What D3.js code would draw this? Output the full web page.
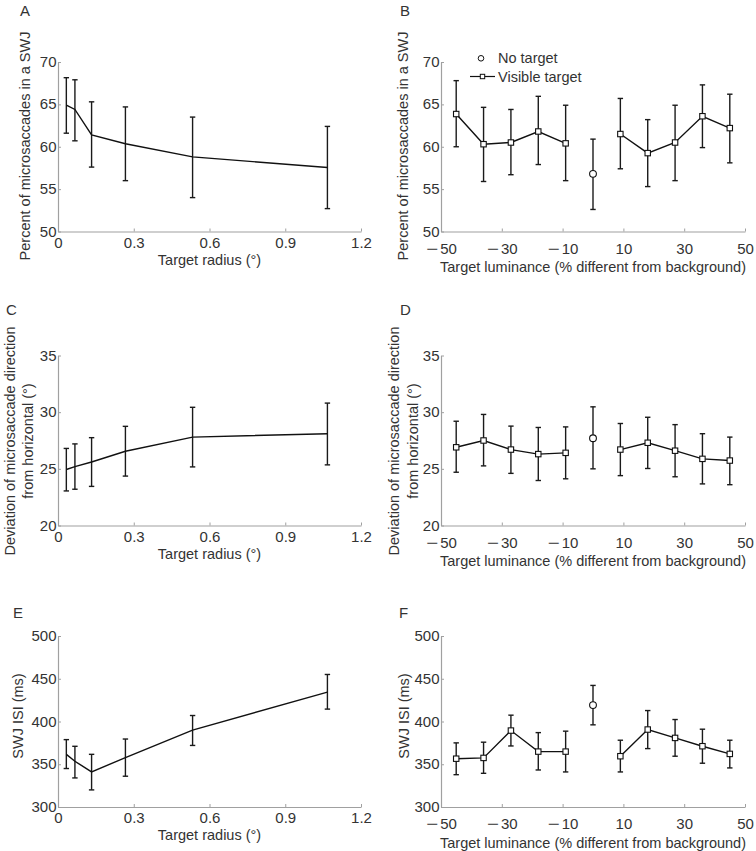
<!DOCTYPE html>
<html><head><meta charset="utf-8">
<script src="https://cdn.jsdelivr.net/npm/d3@7"></script>
<style>
html,body{margin:0;padding:0;background:#fff;}
svg{display:block;font-family:"Liberation Sans",Arial,Helvetica,sans-serif;}
</style></head>
<body>
<script>
// ---------- DATA ----------
const radius = [0.033, 0.067, 0.133, 0.267, 0.533, 1.067];
const luminance = [-45, -36, -27, -18, -9, 9, 18, 27, 36, 45];
const noTargetX = [0];

const radiusTicks = [0, 0.3, 0.6, 0.9, 1.2];
const radiusTickLabels = ["0", "0.3", "0.6", "0.9", "1.2"];
const lumTicks = [-50, -30, -10, 10, 30, 50];
const lumTickLabels = ["\u221250", "\u221230", "\u221210", "10", "30", "50"];

const swjTicks = [50, 55, 60, 65, 70];
const devTicks = [20, 25, 30, 35];
const isiTicks = [300, 350, 400, 450, 500];

// Panel A: percent in SWJ vs radius
const aMean = [64.9, 64.4, 61.4, 60.35, 58.8, 57.55];
const aHi   = [68.15, 67.9, 65.3, 64.7, 63.5, 62.4];
const aLo   = [61.6, 60.7, 57.6, 56.0, 54.0, 52.7];
// Panel B: percent in SWJ vs luminance
const bMean = [63.86, 60.3, 60.5, 61.8, 60.4, 61.5, 59.25, 60.5, 63.6, 62.2];
const bHi   = [67.8, 64.65, 64.4, 65.95, 64.9, 65.7, 63.2, 64.9, 67.3, 66.2];
const bLo   = [60.0, 55.9, 56.7, 57.9, 56.0, 57.4, 55.3, 56.0, 59.9, 58.1];
const bNoMean = [56.8], bNoHi = [60.9], bNoLo = [52.6];
// Panel C: direction deviation vs radius
const cMean = [24.94, 25.2, 25.6, 26.55, 27.8, 28.1];
const cHi   = [26.8, 27.2, 27.75, 28.75, 30.43, 30.8];
const cLo   = [23.05, 23.2, 23.45, 24.36, 25.17, 25.35];
// Panel D: direction deviation vs luminance
const dMean = [26.9, 27.5, 26.7, 26.3, 26.41, 26.7, 27.3, 26.6, 25.88, 25.73];
const dHi   = [29.2, 29.8, 28.77, 28.65, 28.7, 29.0, 29.55, 28.9, 28.1, 27.8];
const dLo   = [24.7, 25.26, 24.6, 23.97, 24.12, 24.4, 25.03, 24.3, 23.67, 23.6];
const dNoMean = [27.7], dNoHi = [30.47], dNoLo = [25.0];
// Panel E: SWJ ISI vs radius
const eMean = [361.6, 353.5, 341, 357.8, 390, 434.3];
const eHi   = [378.8, 371, 361.6, 379.5, 407, 455];
const eLo   = [345, 334, 320, 336, 372, 414.5];
// Panel F: SWJ ISI vs luminance
const fMean = [356.5, 357.4, 389.4, 364.8, 364.8, 359.4, 390.6, 380.8, 371.1, 362.1];
const fHi   = [375, 375.8, 407.4, 387, 388.7, 378.1, 412.8, 402.3, 391, 378.1];
const fLo   = [337.8, 339.4, 371.4, 343.3, 341, 341, 368.3, 359.4, 351.2, 345.7];
const fNoMean = [419.2], fNoHi = [442.2], fNoLo = [396.1];

const ylabelSWJ = ["Percent of microsaccades in a SWJ"];
const ylabelDev = ["Deviation of microsaccade direction", "from horizontal (\u00b0)"];
const ylabelISI = ["SWJ ISI (ms)"];
const xlabelRadius = "Target radius (\u00b0)";
const xlabelLum = "Target luminance (% different from background)";
const legendLabels = ["No target", "Visible target"];

// ---------- LAYOUT ----------
const W = 756, H = 851;
const TXT = "#333", AX = "#a0a0a0", INK = "#1a1a1a";
const TICKFS = 15, LABFS = 14.5;
const svg = d3.select("body").append("svg").attr("width", W).attr("height", H);

const cols = {
  L: {x0: 58, x1: 361, tickOff: 16, labOff: 33},
  R: {x0: 441, x1: 745, tickOff: 22, labOff: 40.5}
};
const rows = [
  {y0: 62, y1: 231.5, letterY: 16},
  {y0: 355.5, y1: 525.5, letterY: 315},
  {y0: 636, y1: 807, letterY: 618}
];

const panels = [
  {letter: "A", lx: 20, col: "L", row: 0, xd: [0, 1.2], xt: radiusTicks, xtl: radiusTickLabels, yd: [50, 70], yt: swjTicks,
   x: radius, m: aMean, hi: aHi, lo: aLo, ylab: ylabelSWJ, ylabX: [30], xlab: xlabelRadius, ylabC: 146, lum: false},
  {letter: "B", lx: 400, col: "R", row: 0, xd: [-50, 50], xt: lumTicks, xtl: lumTickLabels, yd: [50, 70], yt: swjTicks,
   x: luminance, m: bMean, hi: bHi, lo: bLo, nm: bNoMean, nhi: bNoHi, nlo: bNoLo, ylab: ylabelSWJ, ylabX: [408], xlab: xlabelLum, ylabC: 146, lum: true, legend: true},
  {letter: "C", lx: 6, col: "L", row: 1, xd: [0, 1.2], xt: radiusTicks, xtl: radiusTickLabels, yd: [20, 35], yt: devTicks,
   x: radius, m: cMean, hi: cHi, lo: cLo, ylab: ylabelDev, ylabX: [15, 33], xlab: xlabelRadius, ylabC: 441, lum: false},
  {letter: "D", lx: 400, col: "R", row: 1, xd: [-50, 50], xt: lumTicks, xtl: lumTickLabels, yd: [20, 35], yt: devTicks,
   x: luminance, m: dMean, hi: dHi, lo: dLo, nm: dNoMean, nhi: dNoHi, nlo: dNoLo, ylab: ylabelDev, ylabX: [398.5, 418], xlab: xlabelLum, ylabC: 441, lum: true},
  {letter: "E", lx: 13, col: "L", row: 2, xd: [0, 1.2], xt: radiusTicks, xtl: radiusTickLabels, yd: [300, 500], yt: isiTicks,
   x: radius, m: eMean, hi: eHi, lo: eLo, ylab: ylabelISI, ylabX: [23], xlab: xlabelRadius, ylabC: 716, lum: false},
  {letter: "F", lx: 399, col: "R", row: 2, xd: [-50, 50], xt: lumTicks, xtl: lumTickLabels, yd: [300, 500], yt: isiTicks,
   x: luminance, m: fMean, hi: fHi, lo: fLo, nm: fNoMean, nhi: fNoHi, nlo: fNoLo, ylab: ylabelISI, ylabX: [409], xlab: xlabelLum, ylabC: 716, lum: true}
];

const capW = 2.7;
panels.forEach(p => {
  const c = cols[p.col], r = rows[p.row];
  const xs = d3.scaleLinear().domain(p.xd).range([c.x0, c.x1]);
  const ys = d3.scaleLinear().domain(p.yd).range([r.y1, r.y0]);
  const g = svg.append("g");

  // axes
  const xa = g.append("g").attr("transform", `translate(0,${r.y1})`)
    .call(d3.axisBottom(xs).tickValues(p.xt).tickFormat((d, i) => p.xtl[i]).tickSizeInner(-3).tickSizeOuter(0));
  const ya = g.append("g").attr("transform", `translate(${c.x0},0)`)
    .call(d3.axisLeft(ys).tickValues(p.yt).tickFormat(d3.format("d")).tickSizeInner(-3).tickSizeOuter(0).tickPadding(1.5));
  [xa, ya].forEach(a => {
    a.select(".domain").attr("stroke", AX).attr("stroke-width", 1.2);
    a.selectAll(".tick line").attr("stroke", AX).attr("stroke-width", 1);
    a.selectAll("text").attr("fill", TXT).attr("font-size", TICKFS).attr("font-family", '"Liberation Sans",Arial,sans-serif');
  });
  ya.selectAll("text").attr("dy", "0.3em");
  xa.selectAll("text").attr("dy", null).attr("y", c.tickOff);
  // wider minus sign, as in the reference (stretched horizontally only)
  xa.selectAll("text").each(function() {
    const t = d3.select(this), s = t.text();
    if (s.startsWith("\u2212")) {
      t.text(null);
      t.append("tspan").attr("textLength", 12).attr("lengthAdjust", "spacingAndGlyphs").text("\u2212");
      t.append("tspan").attr("dx", 2).text(s.slice(1));
    }
  });

  // axis labels
  g.append("text").attr("x", (c.x0 + c.x1) / 2).attr("y", r.y1 + c.labOff)
    .attr("text-anchor", "middle").attr("fill", TXT).attr("font-size", LABFS).text(p.xlab);
  p.ylab.forEach((t, i) => {
    g.append("text").attr("transform", `translate(${p.ylabX[i]},${p.ylabC}) rotate(-90)`)
      .attr("text-anchor", "middle").attr("fill", TXT).attr("font-size", LABFS).text(t);
  });
  // panel letter
  g.append("text").attr("x", p.lx).attr("y", r.letterY).attr("fill", TXT).attr("font-size", 15).text(p.letter);

  // error bars
  const drawErr = (xv, lo, hi) => {
    const eb = g.append("g").attr("stroke", INK).attr("stroke-width", 1.4).attr("fill", "none");
    xv.forEach((v, i) => {
      const X = xs(v);
      eb.append("line").attr("x1", X).attr("x2", X).attr("y1", ys(lo[i])).attr("y2", ys(hi[i]));
      eb.append("line").attr("x1", X - capW).attr("x2", X + capW).attr("y1", ys(lo[i])).attr("y2", ys(lo[i]));
      eb.append("line").attr("x1", X - capW).attr("x2", X + capW).attr("y1", ys(hi[i])).attr("y2", ys(hi[i]));
    });
  };
  drawErr(p.x, p.lo, p.hi);

  // line(s)
  const pts = p.x.map((v, i) => [v, p.m[i]]);
  const line = d3.line().x(d => xs(d[0])).y(d => ys(d[1]));
  const segs = p.lum ? [pts.filter(d => d[0] < 0), pts.filter(d => d[0] > 0)] : [pts];
  segs.forEach(s => g.append("path").attr("d", line(s)).attr("fill", "none").attr("stroke", "#111").attr("stroke-width", 1.4));

  if (p.lum) {
    const sq = 5.4;
    g.append("g").selectAll("rect").data(pts).join("rect")
      .attr("x", d => xs(d[0]) - sq / 2).attr("y", d => ys(d[1]) - sq / 2)
      .attr("width", sq).attr("height", sq).attr("fill", "#fff").attr("stroke", "#111").attr("stroke-width", 1.1);
    drawErr(noTargetX, p.nlo, p.nhi);
    g.append("g").selectAll("circle").data(noTargetX.map((v, i) => [v, p.nm[i]])).join("circle")
      .attr("cx", d => xs(d[0])).attr("cy", d => ys(d[1])).attr("r", 3.4)
      .attr("fill", "#fff").attr("stroke", "#111").attr("stroke-width", 1.1);
  }

  if (p.legend) {
    const lg = g.append("g");
    lg.append("circle").attr("cx", 481).attr("cy", 58.3).attr("r", 2.8).attr("fill", "#fff").attr("stroke", "#111").attr("stroke-width", 1);
    lg.append("text").attr("x", 498).attr("y", 63).attr("fill", TXT).attr("font-size", LABFS).text(legendLabels[0]);
    lg.append("line").attr("x1", 470).attr("x2", 495).attr("y1", 76.5).attr("y2", 76.5).attr("stroke", "#111").attr("stroke-width", 1.2);
    lg.append("rect").attr("x", 482.5 - 2.2).attr("y", 76.5 - 2.2).attr("width", 4.4).attr("height", 4.4)
      .attr("fill", "#fff").attr("stroke", "#111").attr("stroke-width", 1);
    lg.append("text").attr("x", 498).attr("y", 81.5).attr("fill", TXT).attr("font-size", LABFS).text(legendLabels[1]);
  }
});
</script>
</body></html>
